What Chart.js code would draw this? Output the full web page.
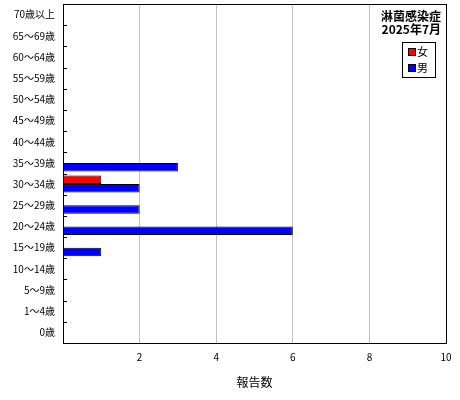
<!DOCTYPE html>
<html><head><meta charset="utf-8">
<script src="https://cdn.jsdelivr.net/npm/chart.js@4/dist/chart.umd.min.js"></script>
<style>html,body{margin:0;padding:0;background:#fff}#wrap{width:460px;height:400px}</style>
</head><body><div id="wrap"><canvas id="c"></canvas></div>
<script>
const categories = ['70歳以上','65～69歳','60～64歳','55～59歳','50～54歳','45～49歳','40～44歳','35～39歳','30～34歳','25～29歳','20～24歳','15～19歳','10～14歳','5～9歳','1～4歳','0歳'];
const femaleValues = [0,0,0,0,0,0,0,0,1,0,0,0,0,0,0,0];
const maleValues   = [0,0,0,0,0,0,0,3,2,2,6,1,0,0,0,0];
const xTicks = [0,2,4,6,8,10];
const titleLines = ['淋菌感染症','2025年7月'];
const seriesNames = ['女','男'];
const FONT = '"Noto Sans CJK JP", "Noto Sans", sans-serif';

const overlay = {
  id:'overlay',
  afterDatasetsDraw(chart){
    const ctx = chart.ctx, a = chart.chartArea, y = chart.scales.y;
    ctx.save();
    ctx.strokeStyle = '#000'; ctx.lineWidth = 1;
    for (let i = 1; i < categories.length; i++) {
      const p = Math.round((y.getPixelForValue(i-1) + y.getPixelForValue(i))/2) + 0.5;
      ctx.beginPath(); ctx.moveTo(a.left, p); ctx.lineTo(a.left+4, p); ctx.stroke();
    }
    ctx.strokeRect(Math.round(a.left)+0.5, Math.round(a.top)+0.5, Math.round(a.right-a.left), Math.round(a.bottom-a.top));
    ctx.fillStyle = '#000';
    ctx.font = 'bold 12px ' + FONT;
    ctx.textAlign = 'right'; ctx.textBaseline = 'middle';
    ctx.fillText(titleLines[0], a.right-5, 16);
    ctx.fillText(titleLines[1], a.right-5, 29);
    const bx = 402, by = 42, bw = 33, bh = 35;
    ctx.fillStyle = '#fff'; ctx.fillRect(bx, by, bw, bh);
    ctx.strokeRect(bx+0.5, by+0.5, bw, bh);
    chart.data.datasets.forEach((ds, i) => {
      const cy = by + 10 + i*16;
      ctx.fillStyle = ds.backgroundColor;
      ctx.fillRect(bx+7, cy-3, 6, 6);
      ctx.strokeStyle = '#000';
      ctx.strokeRect(bx+6.5, cy-3.5, 7, 7);
      ctx.fillStyle = '#000';
      ctx.font = '11px ' + FONT;
      ctx.textAlign = 'left';
      ctx.fillText(ds.label, bx+15, cy);
    });
    ctx.restore();
  }
};

new Chart(document.getElementById('c'), {
  type:'bar',
  data:{
    labels:categories,
    datasets:[
      {label:seriesNames[0], data:femaleValues, backgroundColor:'#ff0000', borderColor:'#000', borderWidth:1, borderSkipped:false},
      {label:seriesNames[1], data:maleValues, backgroundColor:'#0000ff', borderColor:'#000', borderWidth:1, borderSkipped:false}
    ]
  },
  options:{
    indexAxis:'y',
    responsive:true, maintainAspectRatio:false, animation:false,
    layout:{padding:{left:0,right:14,top:4,bottom:0}},
    datasets:{bar:{categoryPercentage:0.8, barPercentage:1}},
    plugins:{legend:{display:false}, tooltip:{enabled:false}},
    scales:{
      x:{
        min:0, max:10,
        afterBuildTicks(s){ s.ticks = xTicks.map(v=>({value:v})); },
        afterFit(s){ s.height = 57; s.paddingLeft = 0; s.paddingRight = 0; },
        grid:{color:'#c0c0c0', drawTicks:false, lineWidth:c=> (c.tick && (c.tick.value===0||c.tick.value===10))?0:1},
        border:{display:true, color:'#000'},
        ticks:{padding:8, color:'#000', font:{family:FONT, size:10}, callback:v=> v===0?'':v, maxRotation:0},
        title:{display:true, text:'報告数', color:'#000', font:{family:FONT, size:12}, padding:{top:12,bottom:10}}
      },
      y:{
        afterFit(s){ s.width = 63; s.paddingTop = 0; s.paddingBottom = 0; },
        grid:{display:false, drawTicks:false},
        border:{display:true, color:'#000'},
        ticks:{padding:8, color:'#000', font:{family:FONT, size:10}, autoSkip:false}
      }
    }
  },
  plugins:[overlay]
});
</script></body></html>
